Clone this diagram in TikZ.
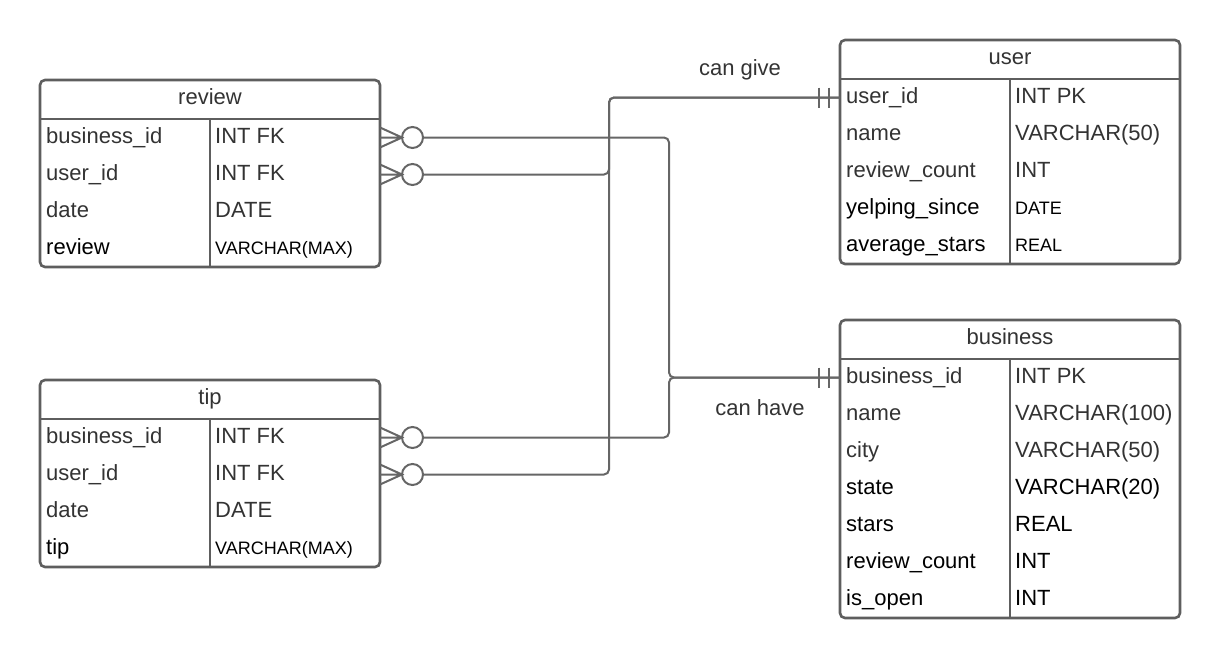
\documentclass[tikz,border=0pt]{standalone}
\usepackage{fontspec}
\setmainfont{Liberation Sans}
\usetikzlibrary{calc}
\definecolor{boxc}{HTML}{5E5E5E}
\definecolor{linec}{HTML}{666666}
\definecolor{txtg}{HTML}{333333}
\newcommand{\ERfont}{\fontsize{22}{24}\selectfont}
\newcommand{\ERsmall}{\fontsize{18}{20}\selectfont}
\tikzset{
 tablebox/.style={draw=boxc, line width=2.6pt, rounded corners=5pt, fill=white, inner sep=0pt, outer sep=0pt, minimum width=340pt},
 divline/.style={draw=boxc, line width=2.6pt},
 rowcell/.style={inner sep=0pt, outer sep=0pt, minimum width=340pt, minimum height=37pt},
 gtxt/.style={text=txtg, font=\ERfont, inner sep=0pt, anchor=base west},
 btxt/.style={text=black, font=\ERfont, inner sep=0pt, anchor=base west},
 bsmall/.style={text=black, font=\ERsmall, inner sep=0pt, anchor=base west},
 headtxt/.style={text=txtg, font=\ERfont, inner sep=0pt, anchor=base},
 reltxt/.style={text=txtg, font=\ERfont, inner sep=0pt, anchor=base},
 conn/.style={draw=linec, line width=2pt},
}
% name, left x, center y, left text, left style, right text, right style
\newcommand{\ERrow}[7]{%
 \node[rowcell] (#1) at (#2+170,#3) {};
 \node[#5] (#1-k) at ($(#1.west)+(6,6)$) {#4};
 \node[#7] (#1-t) at ($(#1.west)+(175,6)$) {#6};
}
\newcommand{\ERmany}[1]{%
 \draw[conn] ($(#1.east)+(0,-10)$) -- ($(#1.east)+(22,0)$) -- ($(#1.east)+(0,10)$)
   (#1.east) -- ($(#1.east)+(22,0)$);
 \draw[conn] ($(#1.east)+(32.5,0)$) circle[radius=10.5pt];
}
\newcommand{\ERone}[1]{%
 \draw[conn] ($(#1.west)+(-21,-10)$) -- ($(#1.west)+(-21,10)$)
   ($(#1.west)+(-11,-10)$) -- ($(#1.west)+(-11,10)$);
}
\newcommand{\ERtable}[5]{% name, center x, center y, height, title
 \node[tablebox, minimum height=#4pt] (#1) at (#2,#3) {};
 \draw[divline] ($(#1.north west)+(0,39)$) -- ($(#1.north east)+(0,39)$);
 \draw[divline] ($(#1.north)+(0,39)$) -- (#1.south);
 \node[headtxt] (#1-h) at ($(#1.north)+(0,24)$) {#5};
}
\begin{document}
\begin{tikzpicture}[x=1pt,y=-1pt]
\path[use as bounding box] (0,0) rectangle (1220,659);

% review
\ERtable{review}{210}{173.5}{187}{review}
\ERrow{rv1}{40}{137.5}{business\_id}{gtxt}{INT FK}{gtxt}
\ERrow{rv2}{40}{174.5}{user\_id}{gtxt}{INT FK}{gtxt}
\ERrow{rv3}{40}{211.5}{date}{gtxt}{DATE}{gtxt}
\ERrow{rv4}{40}{248.5}{review}{btxt}{VARCHAR(MAX)}{bsmall}

% tip
\ERtable{tip}{210}{473.5}{187}{tip}
\ERrow{tp1}{40}{437.5}{business\_id}{gtxt}{INT FK}{gtxt}
\ERrow{tp2}{40}{474.5}{user\_id}{gtxt}{INT FK}{gtxt}
\ERrow{tp3}{40}{511.5}{date}{gtxt}{DATE}{gtxt}
\ERrow{tp4}{40}{548.5}{tip}{btxt}{VARCHAR(MAX)}{bsmall}

% user
\ERtable{user}{1010}{152}{224}{user}
\ERrow{us1}{840}{97.5}{user\_id}{gtxt}{INT PK}{gtxt}
\ERrow{us2}{840}{134.5}{name}{gtxt}{VARCHAR(50)}{gtxt}
\ERrow{us3}{840}{171.5}{review\_count}{gtxt}{INT}{gtxt}
\ERrow{us4}{840}{208.5}{yelping\_since}{btxt}{DATE}{bsmall}
\ERrow{us5}{840}{245.5}{average\_stars}{btxt}{REAL}{bsmall}

% business
\ERtable{business}{1010}{469}{298}{business}
\ERrow{bz1}{840}{377.5}{business\_id}{gtxt}{INT PK}{gtxt}
\ERrow{bz2}{840}{414.5}{name}{gtxt}{VARCHAR(100)}{gtxt}
\ERrow{bz3}{840}{451.5}{city}{gtxt}{VARCHAR(50)}{gtxt}
\ERrow{bz4}{840}{488.5}{state}{btxt}{VARCHAR(20)}{btxt}
\ERrow{bz5}{840}{525.5}{stars}{btxt}{REAL}{btxt}
\ERrow{bz6}{840}{562.5}{review\_count}{btxt}{INT}{btxt}
\ERrow{bz7}{840}{599.5}{is\_open}{btxt}{INT}{btxt}

% connectors
\draw[conn, rounded corners=5pt] ($(rv1.east)+(43,0)$) -| ($(bz1.west)+(-171,0)$) -- (bz1.west);
\draw[conn, rounded corners=5pt] ($(tp1.east)+(43,0)$) -| ($(bz1.west)+(-171,0)$) -- (bz1.west);
\draw[conn, rounded corners=5pt] ($(rv2.east)+(43,0)$) -| ($(us1.west)+(-231,0)$) -- (us1.west);
\draw[conn, rounded corners=5pt] ($(tp2.east)+(43,0)$) -| ($(us1.west)+(-231,0)$) -- (us1.west);

\ERmany{rv1}
\ERmany{rv2}
\ERmany{tp1}
\ERmany{tp2}
\ERone{us1}
\ERone{bz1}

\node[reltxt] (give) at (740,75) {can give};
\node[reltxt] (have) at (760,415) {can have};
\end{tikzpicture}
\end{document}
